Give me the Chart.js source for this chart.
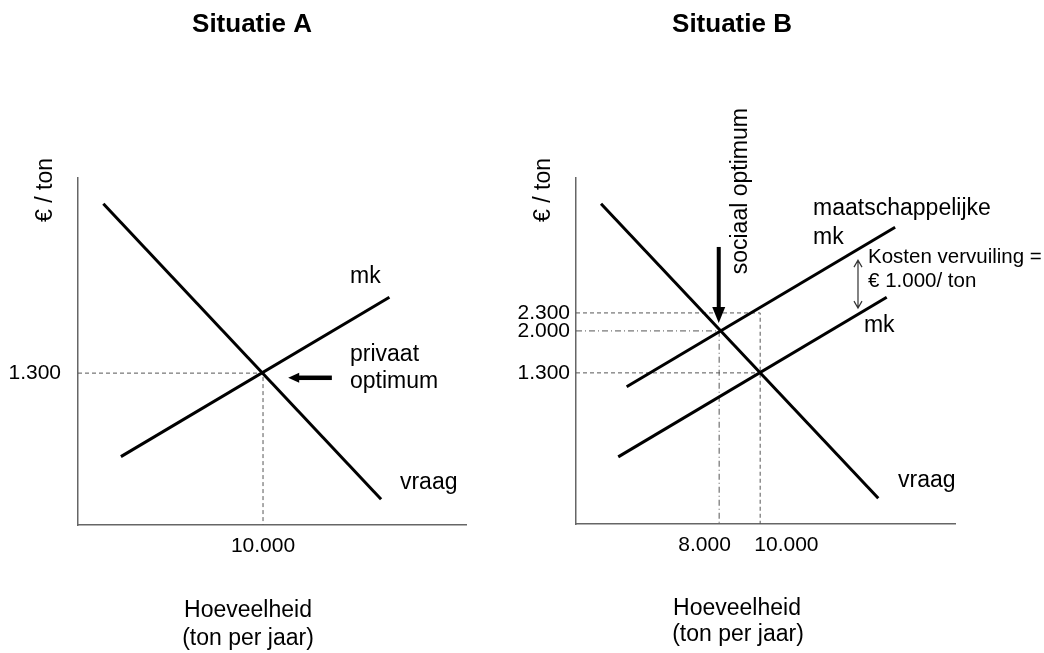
<!DOCTYPE html>
<html>
<head>
<meta charset="utf-8">
<title>Situatie A en B</title>
<script src="https://cdn.jsdelivr.net/npm/chart.js@4.4.1/dist/chart.umd.min.js"></script>
<style>
    html, body { margin: 0; padding: 0; background: #fff; }
    #wrap { position: relative; width: 1044px; height: 653px; overflow: hidden; }
    .panel { position: absolute; top: 0; height: 653px; }
    #panelA { left: 0; width: 500px; }
    #panelB { left: 500px; width: 544px; }
</style>
</head>
<body>
<div id="wrap">
    <div class="panel" id="panelA"><canvas id="chartA" width="500" height="653"></canvas></div>
    <div class="panel" id="panelB"><canvas id="chartB" width="544" height="653"></canvas></div>
</div>
<script>
// ---- Situatie A ----
const quantityTicksA = [10000];
const priceTicksA = [1300];
const demandA = [{ x: 1370, y: 2750 }, { x: 16380, y: 220 }];
const mkA = [{ x: 2320, y: 585 }, { x: 16830, y: 1950 }];
const privateOptimumA = { x: 10000, y: 1300 };

// ---- Situatie B ----
const quantityTicksB = [8000, 10000];
const priceTicksB = [1300, 2000, 2300];
const demandB = [{ x: 2240, y: 4120 }, { x: 15760, y: -790 }];
const socialMkB = [{ x: 3490, y: 1070 }, { x: 16580, y: 3730 }];
const mkB = [{ x: 3080, y: -100 }, { x: 16170, y: 2560 }];
const privateOptimumB = { x: 10000, y: 1300 };
const socialOptimumB = { x: 8000, y: 2000 };
const socialCostAtPrivateB = 2300;

const FONT = "'Liberation Sans', Arial, Helvetica, sans-serif";
const INK = '#000';
const GUIDE = '#555';

function formatNl(v) {
    return String(v).replace(/\B(?=(\d{3})+(?!\d))/g, '.');
}

function curve(data) {
    return { data: data, showLine: true, borderColor: INK, borderWidth: 3, pointRadius: 0, order: 0 };
}

function guide(data, dash) {
    return { data: data, showLine: true, borderColor: GUIDE, borderWidth: 1, borderDash: dash, pointRadius: 0, order: 1 };
}

function drawArrow(ctx, x1, y1, x2, y2, a) {
    const len = Math.hypot(x2 - x1, y2 - y1);
    ctx.save();
    ctx.translate(x2, y2);
    ctx.rotate(Math.atan2(y2 - y1, x2 - x1));
    if (a.filled) {
        ctx.fillStyle = INK;
        ctx.fillRect(-len, -a.shaft / 2, len - a.head + 1, a.shaft);
        ctx.beginPath();
        ctx.moveTo(0, 0);
        ctx.lineTo(-a.head, -a.half);
        ctx.lineTo(-a.head, a.half);
        ctx.closePath();
        ctx.fill();
    } else {
        ctx.strokeStyle = '#333';
        ctx.lineWidth = a.shaft;
        ctx.beginPath();
        ctx.moveTo(-len, 0);
        ctx.lineTo(0, 0);
        // open heads on both ends
        ctx.moveTo(-a.head, -a.half);
        ctx.lineTo(0, 0);
        ctx.lineTo(-a.head, a.half);
        ctx.moveTo(-len + a.head, -a.half);
        ctx.lineTo(-len, 0);
        ctx.lineTo(-len + a.head, a.half);
        ctx.stroke();
    }
    ctx.restore();
}

// texts and arrows drawn on top of the datasets
function makeAnnotations(texts, arrows) {
    return {
        id: 'annotations',
        afterDatasetsDraw(chart) {
            const { ctx, scales: { x, y } } = chart;
            ctx.save();
            arrows.forEach(a => {
                drawArrow(ctx,
                    x.getPixelForValue(a.from.x), y.getPixelForValue(a.from.y),
                    x.getPixelForValue(a.to.x), y.getPixelForValue(a.to.y), a);
            });
            texts.forEach(t => {
                const px = t.data ? x.getPixelForValue(t.x) : t.x;
                const py = t.data ? y.getPixelForValue(t.y) : t.y;
                ctx.save();
                ctx.fillStyle = INK;
                ctx.font = (t.bold ? 'bold ' : '') + (t.size || 23) + 'px ' + FONT;
                ctx.textAlign = t.align || 'left';
                ctx.textBaseline = 'alphabetic';
                ctx.translate(px, py);
                if (t.rotate) ctx.rotate(-Math.PI / 2);
                ctx.fillText(t.text, 0, 0);
                ctx.restore();
            });
            ctx.restore();
        }
    };
}

function makeChart(id, cfg) {
    return new Chart(document.getElementById(id), {
        type: 'scatter',
        data: { datasets: cfg.datasets },
        options: {
            responsive: false,
            animation: false,
            events: [],
            layout: { padding: cfg.padding },
            plugins: { legend: { display: false }, tooltip: { enabled: false }, title: { display: false } },
            scales: {
                x: {
                    type: 'linear',
                    min: cfg.xMin,
                    max: cfg.xMax,
                    grid: { display: false, drawTicks: false },
                    border: { display: true, color: '#666', width: 1.5 },
                    ticks: {
                        autoSkip: false,
                        maxRotation: 0,
                        padding: 9,
                        color: INK,
                        font: { family: FONT, size: 21 },
                        callback: cfg.xLabel
                    },
                    afterBuildTicks: s => { s.ticks = cfg.xTicks.map(v => ({ value: v })); },
                    afterFit: s => { s.height = cfg.xHeight; }
                },
                y: {
                    type: 'linear',
                    min: cfg.yMin,
                    max: cfg.yMax,
                    grid: { display: false, drawTicks: false },
                    border: { display: true, color: '#666', width: 1.5 },
                    ticks: {
                        autoSkip: false,
                        padding: cfg.yPad,
                        color: INK,
                        font: { family: FONT, size: 21 },
                        callback: v => formatNl(v)
                    },
                    afterBuildTicks: s => { s.ticks = cfg.yTicks.map(v => ({ value: v })); },
                    afterFit: s => { s.width = cfg.yWidth; }
                }
            }
        },
        plugins: [makeAnnotations(cfg.texts, cfg.arrows)]
    });
}

// ---- chart A ----
const xMinA = 0, xMaxA = 20970, yMinA = 0, yMaxA = 2970;
makeChart('chartA', {
    xMin: xMinA, xMax: xMaxA, yMin: yMinA, yMax: yMaxA,
    xTicks: quantityTicksA, yTicks: priceTicksA,
    xLabel: v => formatNl(v),
    padding: { top: 178, right: 34, bottom: 0, left: 0 },
    yWidth: 78, xHeight: 128, yPad: 17,
    datasets: [
        curve(demandA),
        curve(mkA),
        guide([
            { x: xMinA, y: privateOptimumA.y },
            { x: privateOptimumA.x, y: privateOptimumA.y },
            { x: privateOptimumA.x, y: yMinA }
        ], [4, 3])
    ],
    arrows: [
        { from: { x: 13720, y: 1260 }, to: { x: 11360, y: 1260 }, filled: true, shaft: 4.5, head: 11, half: 5 }
    ],
    texts: [
        { text: 'Situatie A', x: 252, y: 32, size: 26, bold: true, align: 'center' },
        { text: '€ / ton', x: 52, y: 190, rotate: true, align: 'center' },
        { text: 'Hoeveelheid', x: 248, y: 617, align: 'center' },
        { text: '(ton per jaar)', x: 248, y: 645, align: 'center' },
        { text: 'mk', x: 14700, y: 2070, data: true },
        { text: 'privaat', x: 14700, y: 1400, data: true },
        { text: 'optimum', x: 14700, y: 1170, data: true },
        { text: 'vraag', x: 17400, y: 310, data: true }
    ]
});

// ---- chart B ----
const xMinB = 1020, xMaxB = 19500, yMinB = -1220, yMaxB = 4550;
makeChart('chartB', {
    xMin: xMinB, xMax: xMaxB, yMin: yMinB, yMax: yMaxB,
    xTicks: quantityTicksB, yTicks: priceTicksB,
    // the two quantity labels are pushed apart like in the original
    xLabel: v => v === socialOptimumB.x ? formatNl(v) + '     ' : '         ' + formatNl(v),
    padding: { top: 178, right: 89, bottom: 0, left: 0 },
    yWidth: 76, xHeight: 129, yPad: 6,
    datasets: [
        curve(demandB),
        curve(socialMkB),
        curve(mkB),
        guide([
            { x: xMinB, y: socialCostAtPrivateB },
            { x: privateOptimumB.x, y: socialCostAtPrivateB },
            { x: privateOptimumB.x, y: yMinB }
        ], [4, 3]),
        guide([
            { x: xMinB, y: privateOptimumB.y },
            { x: privateOptimumB.x, y: privateOptimumB.y }
        ], [4, 3]),
        guide([
            { x: xMinB, y: socialOptimumB.y },
            { x: socialOptimumB.x, y: socialOptimumB.y },
            { x: socialOptimumB.x, y: yMinB }
        ], [6, 3, 1, 3])
    ],
    arrows: [
        { from: { x: 7980, y: 3400 }, to: { x: 7980, y: 2130 }, filled: true, shaft: 4, head: 16, half: 6.5 },
        { from: { x: 14770, y: 3180 }, to: { x: 14770, y: 2380 }, filled: false, shaft: 1.2, head: 7, half: 4 }
    ],
    texts: [
        { text: 'Situatie B', x: 232, y: 32, size: 26, bold: true, align: 'center' },
        { text: '€ / ton', x: 50, y: 190, rotate: true, align: 'center' },
        { text: 'Hoeveelheid', x: 237, y: 615, align: 'center' },
        { text: '(ton per jaar)', x: 238, y: 641, align: 'center' },
        { text: 'sociaal optimum', x: 9360, y: 4330, data: true, rotate: true, align: 'center' },
        { text: 'maatschappelijke', x: 12580, y: 3930, data: true },
        { text: 'mk', x: 12580, y: 3450, data: true },
        { text: 'Kosten vervuiling =', x: 15260, y: 3130, data: true, size: 20.5 },
        { text: '€ 1.000/ ton', x: 15260, y: 2730, data: true, size: 20.5 },
        { text: 'mk', x: 15060, y: 1980, data: true },
        { text: 'vraag', x: 16720, y: -600, data: true }
    ]
});
</script>
</body>
</html>
